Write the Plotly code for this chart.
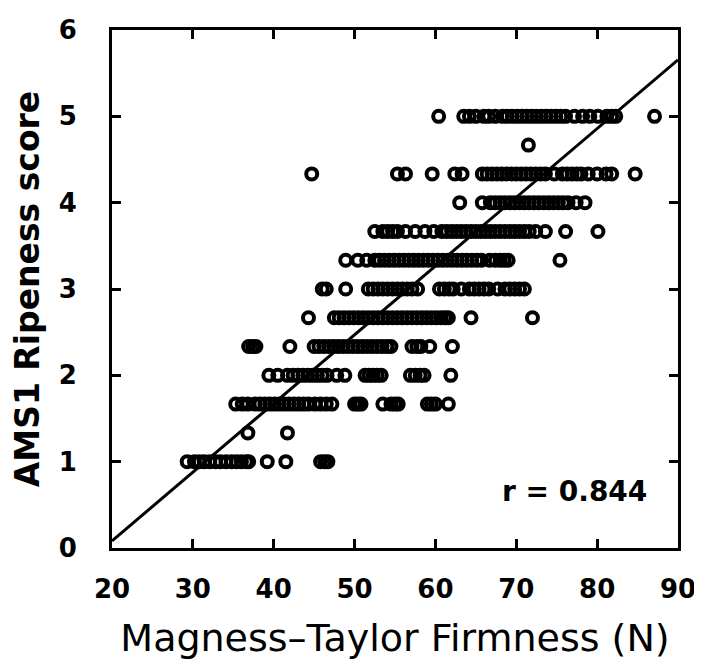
import plotly.graph_objects as go

# Ripeness scores (rows) and Magness-Taylor firmness readings (N) for each row
score_1_00 = [29.3, 30.2, 30.8, 31.4, 32.1, 32.8, 33.4, 34.1, 34.8, 35.4, 36.0, 36.6, 36.9,
              39.2, 41.5, 45.8, 46.3, 46.7]
score_1_33 = [36.8, 41.7]
score_1_67 = [35.3, 36.1, 36.8, 37.7, 38.3, 38.9, 39.5, 40.1, 40.7, 41.3, 41.9, 42.5, 43.1,
              43.7, 44.3, 45.1, 45.8, 46.5, 47.2, 50.0, 50.4, 50.8, 53.5, 54.5, 55.0, 55.4,
              59.0, 59.5, 60.0, 61.6]
score_2_00 = [39.4, 40.5, 41.7, 42.4, 43.0, 43.6, 44.2, 44.8, 45.4, 46.0, 46.6, 47.8, 48.8,
              51.3, 51.8, 52.3, 52.8, 53.3, 56.9, 57.5, 58.1, 58.6, 61.9]
score_2_33 = [36.9, 37.4, 37.8, 42.0, 45.0, 45.6, 46.2, 46.8, 47.4, 48.0, 48.6, 49.2, 49.8,
              50.4, 51.0, 51.6, 52.2, 52.8, 53.4, 54.0, 54.5, 57.1, 57.7, 58.2, 59.3, 62.1]
score_2_67 = [44.3, 47.5, 48.1, 48.7, 49.3, 49.9, 50.5, 51.1, 51.7, 52.3, 52.9, 53.5, 54.1,
              54.7, 55.3, 55.9, 56.5, 57.1, 57.7, 58.3, 58.9, 59.5, 60.1, 60.7, 61.2, 61.6,
              64.4, 72.0]
score_3_00 = [46.0, 46.5, 48.9, 51.7, 52.3, 52.9, 53.5, 54.1, 54.7, 55.3, 55.9, 56.5, 57.1,
              57.8, 60.5, 61.1, 61.7, 62.2, 63.2, 64.2, 64.8, 65.4, 66.0, 66.6, 67.7, 68.6,
              69.2, 69.8, 70.4, 71.0]
score_3_33 = [48.9, 50.4, 51.5, 52.5, 53.1, 53.7, 54.3, 54.9, 55.5, 56.1, 56.7, 57.3, 57.9,
              58.5, 59.1, 59.7, 60.3, 60.9, 61.5, 62.1, 62.7, 63.3, 63.9, 64.5, 65.1, 65.7,
              66.7, 67.4, 68.0, 68.5, 69.0, 75.4]
score_3_67 = [52.5, 53.5, 54.1, 54.7, 55.3, 56.3, 57.5, 58.7, 59.8, 60.8, 61.4, 62.0, 62.6,
              63.2, 63.8, 64.4, 65.0, 65.6, 66.2, 66.8, 67.4, 68.0, 68.6, 69.2, 69.8, 70.4,
              71.0, 71.6, 72.4, 73.6, 76.1, 80.1]
score_4_00 = [63.0, 65.8, 66.8, 67.4, 68.0, 68.6, 69.2, 69.8, 70.4, 71.0, 71.6, 72.2, 72.8,
              73.4, 74.0, 74.6, 75.2, 75.8, 76.4, 77.4, 78.5]
score_4_33 = [44.7, 55.3, 56.3, 59.6, 62.4, 63.3, 65.8, 66.4, 67.0, 67.6, 68.2, 68.8, 69.4,
              70.0, 70.6, 71.2, 71.8, 72.4, 73.0, 73.6, 74.7, 75.7, 76.3, 76.9, 77.5, 78.0,
              78.9, 80.0, 81.1, 81.8, 84.7]
score_4_67 = [71.5]
score_5_00 = [60.4, 63.5, 64.2, 65.0, 66.0, 66.6, 67.4, 68.3, 68.9, 69.5, 70.1, 70.7, 71.3,
              71.9, 72.5, 73.1, 73.7, 74.3, 74.9, 75.5, 76.1, 77.2, 78.2, 79.1, 80.1, 81.2,
              81.8, 82.3, 87.1]

score_levels = [1.0, 4 / 3, 5 / 3, 2.0, 7 / 3, 8 / 3, 3.0, 10 / 3, 11 / 3, 4.0, 13 / 3, 14 / 3, 5.0]
firmness_rows = [score_1_00, score_1_33, score_1_67, score_2_00, score_2_33, score_2_67,
                 score_3_00, score_3_33, score_3_67, score_4_00, score_4_33, score_4_67,
                 score_5_00]

# Regression line
fit_intercept = -1.51
fit_slope = 0.0796
fit_x = [20, 90]
r_label = "r = 0.844"

x_ticks = [20, 30, 40, 50, 60, 70, 80, 90]
y_ticks = [0, 1, 2, 3, 4, 5, 6]

xs, ys = [], []
for lvl, row in zip(score_levels, firmness_rows):
    xs.extend(row)
    ys.extend([lvl] * len(row))

fig = go.Figure()
fig.add_trace(go.Scatter(
    x=xs, y=ys, mode="markers",
    marker=dict(symbol="circle-open", size=11, color="black",
                line=dict(width=4, color="black")),
    hoverinfo="x+y", cliponaxis=False,
))
fig.add_trace(go.Scatter(
    x=fit_x, y=[fit_intercept + fit_slope * v for v in fit_x],
    mode="lines", line=dict(color="black", width=3), hoverinfo="skip",
))

tick_font = dict(family="DejaVu Sans", size=26, color="black", weight="bold")

# page body adds an 8px margin, so the figure is 8px smaller than the window
fig.update_layout(
    width=694, height=652,
    margin=dict(l=104, r=24, t=22, b=112),
    paper_bgcolor="white", plot_bgcolor="white",
    showlegend=False,
    xaxis=dict(
        range=[20, 90], tickvals=x_ticks, ticktext=[str(v) for v in x_ticks],
        ticks="inside", ticklen=9, tickwidth=3, tickcolor="black",
        showline=True, linewidth=3, linecolor="black", mirror="ticks",
        showgrid=False, zeroline=False, tickfont=tick_font,
        ticklabelstandoff=16, ticklabeloverflow="allow", automargin=False,
        title=dict(text="Magness–Taylor Firmness (N)", standoff=26,
                   font=dict(family="DejaVu Sans", size=38, color="black")),
    ),
    yaxis=dict(
        range=[0, 6], tickvals=y_ticks, ticktext=[str(v) for v in y_ticks],
        ticks="inside", ticklen=9, tickwidth=3, tickcolor="black",
        showline=True, linewidth=3, linecolor="black", mirror="ticks",
        showgrid=False, zeroline=False, tickfont=tick_font,
        ticklabelstandoff=27, ticklabeloverflow="allow", automargin=False,
        title=dict(text="AMS1 Ripeness score", standoff=10,
                   font=dict(family="DejaVu Sans", size=33, color="black", weight="bold")),
    ),
    annotations=[dict(
        x=86.4, y=0.65, xref="x", yref="y", text=r_label, showarrow=False,
        xanchor="right", yanchor="middle",
        font=dict(family="DejaVu Sans", size=28, color="black", weight="bold"),
    )],
)

fig.write_html("out.html")
